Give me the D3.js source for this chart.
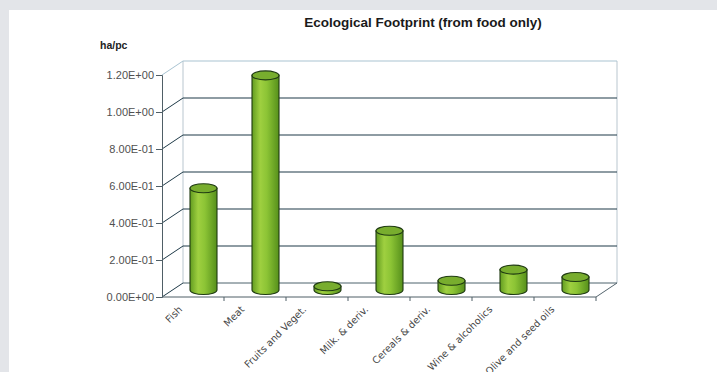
<!DOCTYPE html>
<html>
<head>
<meta charset="utf-8">
<script src="https://cdn.jsdelivr.net/npm/d3@7"></script>
<style>
  html, body { margin: 0; padding: 0; background: #e3e5e9; }
  svg { display: block; }
</style>
</head>
<body>
<svg id="chart" width="717" height="372"></svg>
<script>
// Ecological footprint per person, food categories only (ha per capita)
const categories = ["Fish", "Meat", "Fruits and Veget.", "Milk. & deriv.", "Cereals & deriv.", "Wine & alcoholics", "Olive and seed oils"];
const footprint = [0.55, 1.16, 0.02, 0.32, 0.05, 0.11, 0.07];
const yTicks = [0, 0.2, 0.4, 0.6, 0.8, 1.0, 1.2];
const yTickLabels = ["0.00E+00", "2.00E-01", "4.00E-01", "6.00E-01", "8.00E-01", "1.00E+00", "1.20E+00"];

const svg = d3.select("#chart");

// white panel on the grey page
svg.append("rect").attr("x", 9).attr("y", 10).attr("width", 708).attr("height", 362).attr("fill", "#ffffff");

// front plane scales, plus an oblique depth offset for the 3D box
const depth = { dx: 21, dy: -14 };
const x = d3.scaleBand().domain(categories).range([162, 596]);
const y = d3.scaleLinear().domain([0, 1.2]).range([297, 75]);

const g = svg.append("g");

// back wall outline
const bx0 = x.range()[0] + depth.dx, bx1 = x.range()[1] + depth.dx;
g.append("line").attr("x1", bx0).attr("x2", bx0).attr("y1", y(1.2) + depth.dy).attr("y2", y(0) + depth.dy)
  .attr("stroke", "#b9c6cf").attr("stroke-width", 1);
g.append("line").attr("x1", bx1).attr("x2", bx1).attr("y1", y(1.2) + depth.dy).attr("y2", y(0) + depth.dy)
  .attr("stroke", "#b9c6cf").attr("stroke-width", 1);

// gridlines: along the left wall and across the back wall
yTicks.forEach((t, i) => {
  const top = i === yTicks.length - 1;
  const col = top ? "#a9c4d2" : "#1f3a48";
  const yy = y(t);
  g.append("line").attr("x1", x.range()[0]).attr("y1", yy)
    .attr("x2", bx0).attr("y2", yy + depth.dy)
    .attr("stroke", col).attr("stroke-width", 1);
  g.append("line").attr("x1", bx0).attr("y1", yy + depth.dy)
    .attr("x2", bx1).attr("y2", yy + depth.dy)
    .attr("stroke", col).attr("stroke-width", t === 0 ? 0.8 : 1.2);
});

// floor: right edge
g.append("line").attr("x1", x.range()[1]).attr("y1", y(0))
  .attr("x2", bx1).attr("y2", y(0) + depth.dy).attr("stroke", "#55656e").attr("stroke-width", 1);

// y axis
const yAxis = d3.axisLeft(y).tickValues(yTicks).tickSize(6).tickPadding(2)
  .tickFormat((d, i) => yTickLabels[i]);
const ya = g.append("g").attr("transform", `translate(${x.range()[0]},0)`).call(yAxis);
ya.select(".domain").attr("stroke", "#4f5e66");
ya.selectAll(".tick line").attr("stroke", "#4f5e66");
ya.selectAll(".tick text").attr("fill", "#505050").attr("font-family", "Arial, 'Liberation Sans', sans-serif")
  .attr("font-size", 11);

// x axis with ticks between categories
const xAxis = d3.axisBottom(x).tickSize(0).tickFormat("");
const xa = g.append("g").attr("transform", `translate(0,${y(0)})`).call(xAxis);
xa.select(".domain").attr("stroke", "#4f5e66").attr("d", `M${x.range()[0]},0H${x.range()[1]}`);
const bounds = categories.map(c => x(c)).concat([x.range()[1]]);
xa.selectAll(".sep").data(bounds.slice(1)).join("line").attr("class", "sep")
  .attr("x1", d => d).attr("x2", d => d).attr("y1", 0).attr("y2", 4)
  .attr("stroke", "#4f5e66");

// category labels, slanted
g.selectAll(".cat").data(categories).join("text").attr("class", "cat")
  .attr("transform", d => `translate(${x(d) + x.bandwidth() / 2 - 10},${y(0) + 13}) rotate(-45)`)
  .attr("text-anchor", "end")
  .attr("font-family", "Verdana, 'DejaVu Sans', sans-serif").attr("font-size", 9.8)
  .attr("fill", "#444").text(d => d);

// cylinders
const defs = svg.append("defs");
const grad = defs.append("linearGradient").attr("id", "cyl").attr("x1", "0").attr("x2", "1").attr("y1", "0").attr("y2", "0");
[["0%", "#629c20"], ["30%", "#9fd040"], ["55%", "#8cc435"], ["100%", "#56901b"]]
  .forEach(([o, c]) => grad.append("stop").attr("offset", o).attr("stop-color", c));

const bw = 27, ry = 4.5;
const bars = g.selectAll(".bar").data(categories.map((c, i) => ({ c, v: footprint[i] }))).join("g").attr("class", "bar");
bars.each(function (d) {
  const cx = x(d.c) + x.bandwidth() / 2 + depth.dx / 2;
  const base = y(0) + depth.dy / 2;
  const top = y(d.v) + depth.dy / 2;
  const l = cx - bw / 2, r = cx + bw / 2;
  const sel = d3.select(this);
  sel.append("path")
    .attr("d", `M${l},${top}L${l},${base}A${bw / 2},${ry} 0 0 0 ${r},${base}L${r},${top}Z`)
    .attr("fill", "url(#cyl)").attr("stroke", "#1f3a12").attr("stroke-width", 1.1);
  sel.append("ellipse").attr("cx", cx).attr("cy", top).attr("rx", bw / 2).attr("ry", ry)
    .attr("fill", "#78ad2e").attr("stroke", "#1f3a12").attr("stroke-width", 1.1);
});

// titles
svg.append("text").attr("x", 423).attr("y", 27).attr("text-anchor", "middle")
  .attr("font-family", "Arial, 'Liberation Sans', sans-serif").attr("font-weight", "bold")
  .attr("font-size", 13.5).attr("fill", "#1a1a1a").text("Ecological Footprint (from food only)");
svg.append("text").attr("x", 100).attr("y", 49)
  .attr("font-family", "Arial, 'Liberation Sans', sans-serif").attr("font-weight", "bold")
  .attr("font-size", 10.5).attr("fill", "#222").text("ha/pc");
</script>
</body>
</html>
